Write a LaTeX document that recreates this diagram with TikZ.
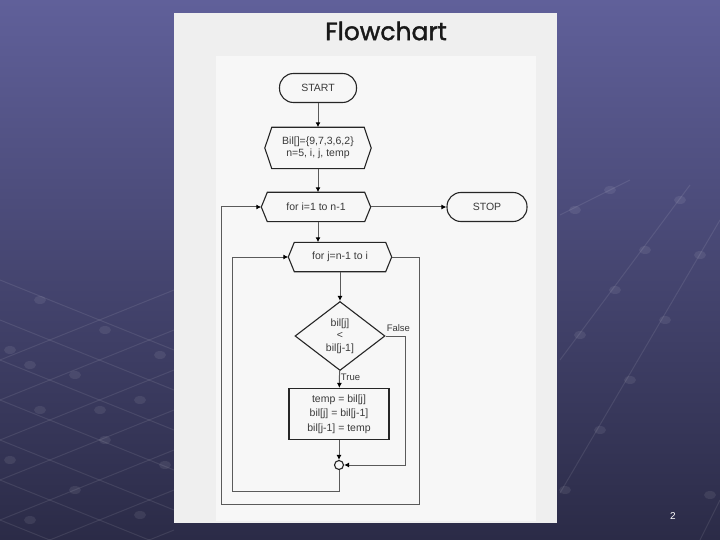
\documentclass[tikz,border=0pt]{standalone}
\usepackage{fontspec}
\setmainfont{Liberation Sans}
\newfontfamily\titlefont[FakeBold=1.5]{Poppins}
\usetikzlibrary{shapes.geometric,arrows.meta,calc}
\definecolor{bgtop}{HTML}{60609A}
\definecolor{bgbot}{HTML}{2B2B47}
\definecolor{panel}{HTML}{EFEFEF}
\definecolor{inner}{HTML}{F7F7F7}
\definecolor{ink}{HTML}{3A3A3A}
\definecolor{conn}{HTML}{5A5A5A}
\newcommand\hexdraw[2]{%
  \draw[shapeline] ($(#1.north west)+(#2,0)$) -- ($(#1.north east)-(#2,0)$) -- (#1.east)
    -- ($(#1.south east)-(#2,0)$) -- ($(#1.south west)+(#2,0)$) -- (#1.west) -- cycle;}
\begin{document}
\begin{tikzpicture}[x=1pt,y=-1pt,
  shapeline/.style={draw=black!85, line width=1.1pt},
  fc/.style={font=\fontsize{10.5}{12.5}\selectfont, text=ink, align=center, inner sep=0pt},
  terminal/.style={fc, shapeline, rounded corners=14pt, minimum width=77pt, minimum height=29pt},
  hexbox/.style={fc, draw=none, minimum height=29pt},
  decision/.style={fc, diamond, shapeline, minimum width=90pt, minimum height=69pt, aspect=1.3},
  process/.style={fc, rectangle, shapeline, minimum width=100pt, minimum height=51pt},
  junction/.style={circle, shapeline, minimum size=9pt, inner sep=0pt},
  arr/.style={draw=conn, line width=1pt, -{Latex[length=5pt,width=5pt,color=black]}},
  lbl/.style={font=\fontsize{9.5}{11}\selectfont, text=ink, inner sep=1pt},
  bgline/.style={draw=white, opacity=0.09, line width=1pt},
  bgdot/.style={fill=white, opacity=0.08}]
% background slide
\shade[top color=bgtop, bottom color=bgbot] (0,0) rectangle (720,540);
\useasboundingbox (0,0) rectangle (720,540);
% faint network pattern, left side
\foreach \i in {0,...,6}{
  \draw[bgline] (0,{280+\i*40}) -- (174,{350+\i*40});
  \draw[bgline] (0,{360+\i*40}) -- (174,{290+\i*40});
}
\foreach \x/\y in {40/300, 105/330, 160/355, 10/350, 75/375, 140/400, 40/410, 105/440, 165/465, 10/460, 75/490, 140/515, 30/520, 100/410, 30/365}{
  \fill[bgdot] (\x,\y) ellipse (6pt and 4pt);
}
% faint network pattern, right side
\draw[bgline] (560,493) -- (720,220);
\draw[bgline] (560,360) -- (690,185);
\draw[bgline] (560,215) -- (630,180);
\draw[bgline] (700,540) -- (720,500);
\foreach \x/\y in {565/490, 600/430, 630/380, 665/320, 700/255, 580/335, 615/290, 645/250, 680/200, 575/210, 610/190, 710/495}{
  \fill[bgdot] (\x,\y) ellipse (6pt and 4pt);
}
% panel
\fill[panel] (174,13) rectangle (557,523);
\fill[inner] (216,56) rectangle (536,521);
\node[font=\titlefont\fontsize{25}{28}\selectfont, text=black!90] (title) at (386,31) {Flowchart};
\node[font=\fontsize{10}{12}\selectfont, text=white] (pg) at (673,516) {2};
% flowchart nodes
\node[terminal] (start) at (318,88) {START};
\node[hexbox, minimum width=106pt, minimum height=41pt] (bil) at (318,148) {Bil[]=\{9,7,3,6,2\}\\n=5, i, j, temp};
\hexdraw{bil}{7}
\node[hexbox, minimum width=109pt] (fori) at (316,207) {for i=1 to n-1};
\hexdraw{fori}{6}
\node[terminal, minimum width=80pt] (stop) at (487,207) {STOP};
\node[hexbox, minimum width=103pt] (forj) at (340,257) {for j=n-1 to i};
\hexdraw{forj}{6}
\node[decision] (dia) at (340,336) {bil[j]\\[0pt]<\\[0pt]bil[j-1]};
\node[process, font=\fontsize{10.5}{14.5}\selectfont] (proc) at (339,414) {temp = bil[j]\\bil[j] = bil[j-1]\\bil[j-1] = temp};
\node[junction] (circ) at (339,465) {};
\coordinate (l1) at (232,491);
\coordinate (r2) at (419,504);
\coordinate (l2) at (221,504);
% connectors
\draw[arr] (start) -- (bil);
\draw[arr] (bil.south) -- (bil.south |- fori.north);
\draw[arr] (fori) -- (stop);
\draw[arr] (bil.south |- fori.south) -- (bil.south |- forj.north);
\draw[arr] (forj) -- (dia);
\draw[arr] (dia) -- node[lbl, right, pos=0.4] (ltrue) {True} (proc);
\draw[arr] (dia.east) -- ++(20,0) coordinate (fr) |- (circ);
\node[lbl, above right] (lfalse) at ($(dia.east)+(0,-3)$) {False};
\draw[arr] (proc) -- (circ);
\draw[arr] (circ.south) |- (l1) |- (forj.west);
\draw[arr] (forj.east) -| (r2) -- (l2) |- (fori.west);
\end{tikzpicture}
\end{document}
